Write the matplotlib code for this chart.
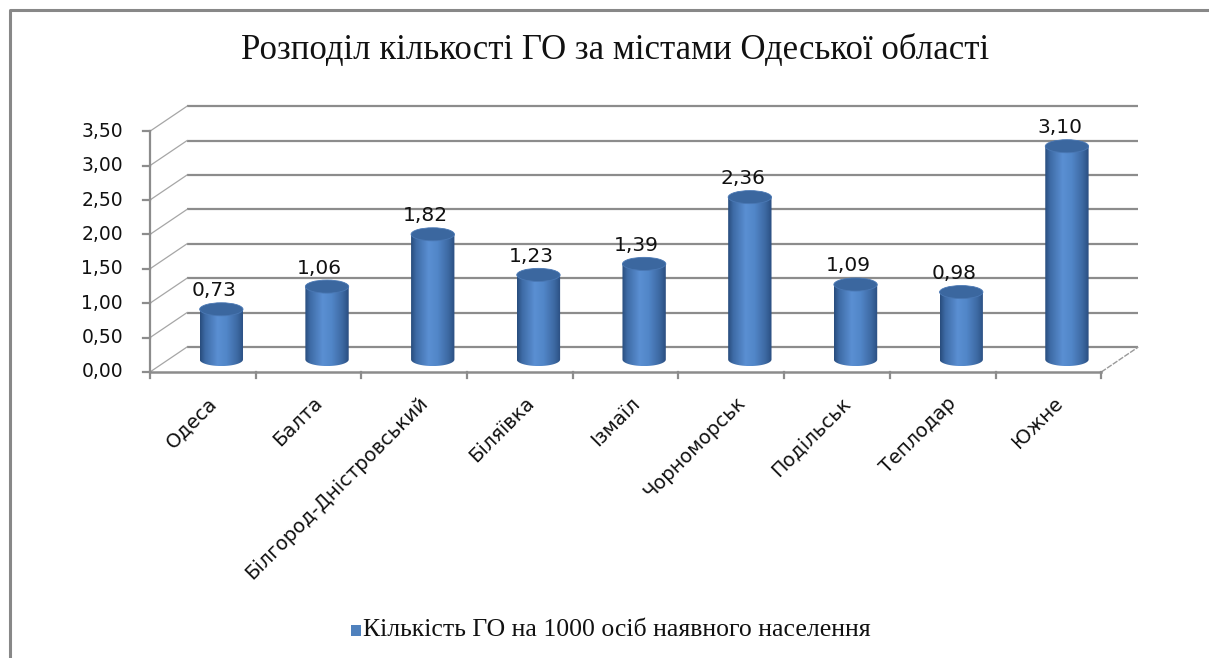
import numpy as np
import matplotlib.pyplot as plt
from matplotlib.patches import Ellipse, PathPatch, Rectangle
from matplotlib.path import Path
from matplotlib.colors import LinearSegmentedColormap
from matplotlib.lines import Line2D

# data
cities = ["Одеса", "Балта", "Білгород-Дністровський", "Біляївка", "Ізмаїл",
          "Чорноморськ", "Подільськ", "Теплодар", "Южне"]
values = [0.73, 1.06, 1.82, 1.23, 1.39, 2.36, 1.09, 0.98, 3.10]
y_ticks = [0.0, 0.5, 1.0, 1.5, 2.0, 2.5, 3.0, 3.5]
title = "Розподіл кількості ГО за містами Одеської області"
series_name = "Кількість ГО на 1000 осіб наявного населення"

# 3d-ish layout (category units / value units)
DX, DY = 0.35, 0.363       # depth offset of back wall
W, EH = 0.41, 0.19         # cylinder width, cap height
GRID = "#8c8c8c"

fig = plt.figure(figsize=(12.09, 6.58), dpi=100)
ax = fig.add_axes([0, 0, 1, 1])
XL = (-1.419, 10.019)
YL = (-4.157, 5.407)

n = len(cities)
ymax = y_ticks[-1]

# back wall gridlines + side wall slants
for v in y_ticks:
    ax.plot([DX, n + DX], [v + DY, v + DY], color=GRID, lw=1.6, zorder=1,
            solid_capstyle="butt")
    ax.plot([0, DX], [v, v + DY], color="#a6a6a6", lw=0.9, zorder=1)
# floor right edge
ax.plot([n, n + DX], [0, DY], color="#9a9a9a", lw=1.0, ls=(0, (4, 1)), zorder=1)

# front axes
ax.plot([0, 0], [0, ymax], color=GRID, lw=1.6, zorder=2)
ax.plot([0, n], [0, 0], color=GRID, lw=1.8, zorder=2)
for v in y_ticks:
    ax.plot([-0.07, 0], [v, v], color=GRID, lw=1.6, zorder=2)
    ax.text(-0.255, v, f"{v:.2f}".replace(".", ","), ha="right", va="center",
            fontsize=13.5, color="#111111", family="DejaVu Sans")
for i in range(n + 1):
    ax.plot([i, i], [0, -0.09], color=GRID, lw=1.6, zorder=2)

# cylinder colors
body_cmap = LinearSegmentedColormap.from_list(
    "cyl", [(0.0, "#284c7c"), (0.12, "#3e6ba6"), (0.4, "#5a8fd2"),
            (0.6, "#5287c9"), (0.85, "#3d69a3"), (1.0, "#2a4e80")])
grad = np.linspace(0, 1, 256).reshape(1, -1)

for i, (city, val) in enumerate(zip(cities, values)):
    cx = i + 0.5 + DX / 2
    base = DY / 2
    top = base + val
    x0, x1 = cx - W / 2, cx + W / 2
    t = np.linspace(np.pi, 2 * np.pi, 40)
    arc = np.column_stack([cx + W / 2 * np.cos(t), base + EH / 2 * np.sin(t)])
    verts = np.vstack([[[x0, top]], arc, [[x1, top]], [[x0, top]]])
    codes = [Path.MOVETO] + [Path.LINETO] * (len(verts) - 2) + [Path.CLOSEPOLY]
    patch = PathPatch(Path(verts, codes), facecolor="none", edgecolor="none")
    ax.add_patch(patch)
    im = ax.imshow(grad, cmap=body_cmap, aspect="auto", zorder=3,
                   extent=[x0, x1, base - EH / 2, top], interpolation="bilinear")
    im.set_clip_path(patch)
    ax.add_patch(Ellipse((cx, top), W, EH, facecolor="#3b679f",
                         edgecolor="#4a78b4", lw=0.6, zorder=4))
    ax.text(cx - 0.07, top + 0.27, f"{val:.2f}".replace(".", ","),
            ha="center", va="center", fontsize=14.5, color="#111111",
            family="DejaVu Sans", zorder=5)

    # category label
    ax.text(i + 0.54, -0.31, city, rotation=45, rotation_mode="anchor",
            ha="right", va="top", fontsize=14, color="#111111",
            family="DejaVu Sans")

ax.set_xlim(*XL)
ax.set_ylim(*YL)
ax.axis("off")

# title and legend
fig.text(615 / 1209, 1 - 51 / 658, title, ha="center", va="center",
         fontsize=25, family="Liberation Serif", color="#111111")
fig.patches.append(Rectangle((351 / 1209, 1 - 636 / 658), 10 / 1209, 11 / 658,
                             transform=fig.transFigure, facecolor="#4f81bd",
                             edgecolor="none"))
fig.text(363 / 1209, 1 - 630 / 658, series_name, ha="left", va="center",
         fontsize=18.5, family="Liberation Serif", color="#111111")

# chart frame
fig.lines.append(Line2D([10 / 1209, 10 / 1209, 1.0], [0, 1 - 10 / 658, 1 - 10 / 658],
                        transform=fig.transFigure, color="#888888", lw=2.2))

fig.savefig("out.png", dpi=100)
